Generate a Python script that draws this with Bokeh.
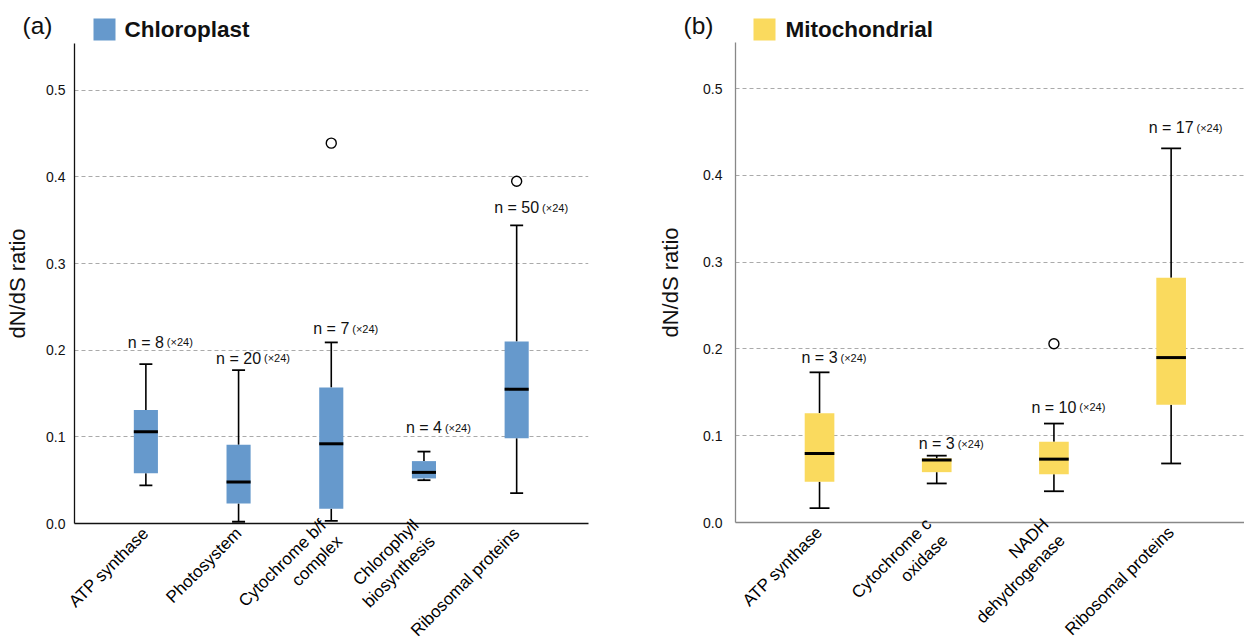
import math
from bokeh.plotting import figure
from bokeh.models import ColumnDataSource, FixedTicker, NumeralTickFormatter, Range1d
from bokeh.layouts import row, column
from bokeh.embed import file_html
from bokeh.resources import INLINE
from bokeh.core.properties import value

FONT = "Liberation Sans"

# ---------------- data: (a) Chloroplast ----------------
chl_categories = ["ATP synthase", "Photosystem", "Cytochrome b/f\ncomplex",
                  "Chlorophyll\nbiosynthesis", "Ribosomal proteins"]
chl_n = [8, 20, 7, 4, 50]
chl_lower = [0.044, 0.002, 0.003, 0.050, 0.035]
chl_q1 = [0.058, 0.023, 0.017, 0.052, 0.0985]
chl_median = [0.106, 0.048, 0.092, 0.059, 0.155]
chl_q3 = [0.131, 0.091, 0.157, 0.072, 0.210]
chl_upper = [0.184, 0.177, 0.209, 0.083, 0.344]
chl_outlier_cat = [2, 4]
chl_outlier_val = [0.439, 0.395]
chl_label_y = [0.209, 0.191, 0.225, 0.1105, 0.3645]

# ---------------- data: (b) Mitochondrial ----------------
mit_categories = ["ATP synthase", "Cytochrome c\noxidase", "NADH\ndehydrogenase",
                  "Ribosomal proteins"]
mit_n = [3, 3, 10, 17]
mit_lower = [0.0165, 0.045, 0.036, 0.068]
mit_q1 = [0.047, 0.058, 0.0556, 0.1356]
mit_median = [0.0795, 0.072, 0.073, 0.190]
mit_q3 = [0.126, 0.074, 0.093, 0.282]
mit_upper = [0.173, 0.077, 0.114, 0.431]
mit_outlier_cat = [2]
mit_outlier_val = [0.206]
mit_label_y = [0.190, 0.091, 0.133, 0.455]

y_ticks = [0.0, 0.1, 0.2, 0.3, 0.4, 0.5]
multiplier = "(×24)"

CHAR_W = {"n": 8.9, " ": 4.4, "=": 9.3}


def text_width(s):
    return sum(CHAR_W.get(c, 8.9) for c in s)


def make_header(width, height, tag, tag_xy, sq_xy, name, name_xy, color):
    h = figure(width=width, height=height, output_backend="svg", toolbar_location=None,
               x_range=Range1d(0, width), y_range=Range1d(0, height),
               x_axis_location=None, y_axis_location=None, min_border=0,
               frame_align=False)
    h.min_border_left = h.min_border_right = h.min_border_top = h.min_border_bottom = 0
    h.outline_line_color = None
    h.grid.visible = False
    h.text(x=[tag_xy[0]], y=[tag_xy[1]], text=[tag], text_font=value(FONT),
           text_font_size="24.5px", text_align="left", text_baseline="middle",
           text_color="#111111")
    h.scatter(x=[sq_xy[0]], y=[sq_xy[1]], marker="square", size=22,
              fill_color=color, line_color=None)
    h.text(x=[name_xy[0]], y=[name_xy[1]], text=[name], text_font=value(FONT),
           text_font_size="22.5px", text_font_style="bold", text_align="left",
           text_baseline="middle", text_color="#111111")
    return h


def make_panel(cats, n, lower, q1, med, q3, upper, out_cat, out_val, label_y,
               color, axis_color, frame_w, frame_h, xr, yr,
               borders, box_w, cap_w, tick_standoff, label_standoff):
    p = figure(frame_width=frame_w, frame_height=frame_h,
               output_backend="svg", toolbar_location=None,
               x_range=Range1d(*xr), y_range=Range1d(*yr),
               min_border_left=borders[0], min_border_right=borders[1],
               min_border_top=borders[2], min_border_bottom=borders[3],
               frame_align=False)
    p.outline_line_color = None
    p.background_fill_color = "white"
    p.border_fill_color = "white"

    xs = list(range(len(cats)))
    src = ColumnDataSource(dict(
        x=xs, lower=lower, q1=q1, med=med, q3=q3, upper=upper,
        xl=[x - box_w / 2 for x in xs], xr=[x + box_w / 2 for x in xs],
        cl=[x - cap_w / 2 for x in xs], cr=[x + cap_w / 2 for x in xs],
    ))
    # whiskers
    p.segment(x0="x", y0="q3", x1="x", y1="upper", source=src, line_color="black", line_width=1.6)
    p.segment(x0="x", y0="q1", x1="x", y1="lower", source=src, line_color="black", line_width=1.6)
    p.segment(x0="cl", y0="upper", x1="cr", y1="upper", source=src, line_color="black", line_width=1.8)
    p.segment(x0="cl", y0="lower", x1="cr", y1="lower", source=src, line_color="black", line_width=1.8)
    # boxes
    p.vbar(x="x", width=box_w, bottom="q1", top="q3", source=src,
           fill_color=color, line_color=None)
    # medians
    p.segment(x0="xl", y0="med", x1="xr", y1="med", source=src, line_color="black", line_width=3)
    # outliers
    p.scatter(x=out_cat, y=out_val, marker="circle", size=10, fill_color="white",
              line_color="black", line_width=1.4)

    # n labels
    main = [f"n = {v}" for v in n]
    lsrc = ColumnDataSource(dict(
        x=xs, y=label_y, main=main, small=[multiplier] * len(n),
        off=[text_width(m) / 2 + 3 for m in main],
    ))
    p.text(x="x", y="y", text="main", source=lsrc, text_align="center",
           text_baseline="middle", text_font=value(FONT), text_font_size="16px",
           text_color="#111111")
    p.text(x="x", y="y", text="small", source=lsrc, x_offset="off", text_align="left",
           text_baseline="middle", text_font=value(FONT), text_font_size="11px",
           text_color="#111111")

    # axes
    p.xaxis.ticker = FixedTicker(ticks=xs)
    p.xaxis.major_label_overrides = {i: c for i, c in enumerate(cats)}
    p.xaxis.major_label_orientation = math.pi / 4
    p.xaxis.major_label_text_font = FONT
    p.xaxis.major_label_text_font_size = "17px"
    p.xaxis.major_label_text_color = "black"
    p.xaxis.major_tick_line_color = None
    p.xaxis.major_tick_out = 0
    p.xaxis.minor_tick_line_color = None
    p.xaxis.major_label_standoff = 7
    p.xaxis.axis_line_color = axis_color
    p.xaxis.axis_line_width = 1.3

    p.yaxis.ticker = FixedTicker(ticks=y_ticks)
    p.yaxis.formatter = NumeralTickFormatter(format="0.0")
    p.yaxis.major_label_text_font = FONT
    p.yaxis.major_label_text_font_size = "14px"
    p.yaxis.major_label_text_color = "#111111"
    p.yaxis.major_tick_line_color = None
    p.yaxis.major_tick_out = 0
    p.yaxis.minor_tick_line_color = None
    p.yaxis.major_label_standoff = tick_standoff
    p.yaxis.axis_line_color = axis_color
    p.yaxis.axis_line_width = 1.3
    p.yaxis.axis_label = "dN/dS ratio"
    p.yaxis.axis_label_text_font = FONT
    p.yaxis.axis_label_text_font_size = "22px"
    p.yaxis.axis_label_text_font_style = "normal"
    p.yaxis.axis_label_text_color = "#111111"
    p.yaxis.axis_label_standoff = label_standoff

    p.xgrid.grid_line_color = None
    p.ygrid.grid_line_color = "#aaaaaa"
    p.ygrid.grid_line_dash = "4 3"
    p.ygrid.grid_line_width = 1
    return p


head_a = make_header(640, 43, "(a)", (22, 18), (104, 14), "Chloroplast", (124, 14), "#6699CC")
pa = make_panel(chl_categories, chl_n, chl_lower, chl_q1, chl_median, chl_q3, chl_upper,
                chl_outlier_cat, chl_outlier_val, chl_label_y,
                color="#6699CC", axis_color="#111111",
                frame_w=514, frame_h=480, xr=(-0.77, 4.775), yr=(0.0, 0.554),
                borders=(74, 52, 0, 110), box_w=0.26, cap_w=0.14,
                tick_standoff=9, label_standoff=13)

head_b = make_header(604, 42, "(b)", (43, 17), (124, 13), "Mitochondrial", (145, 13), "#FADA5E")
pb = make_panel(mit_categories, mit_n, mit_lower, mit_q1, mit_median, mit_q3, mit_upper,
                mit_outlier_cat, mit_outlier_val, mit_label_y,
                color="#FADA5E", axis_color="#888888",
                frame_w=509, frame_h=480, xr=(-0.717, 3.626), yr=(0.0, 0.553),
                borders=(95, 0, 0, 110), box_w=0.253, cap_w=0.17,
                tick_standoff=13, label_standoff=17)

layout = row(column(head_a, pa, spacing=0), column(head_b, pb, spacing=0), spacing=0)
open("out.html", "w").write(file_html(layout, INLINE))
